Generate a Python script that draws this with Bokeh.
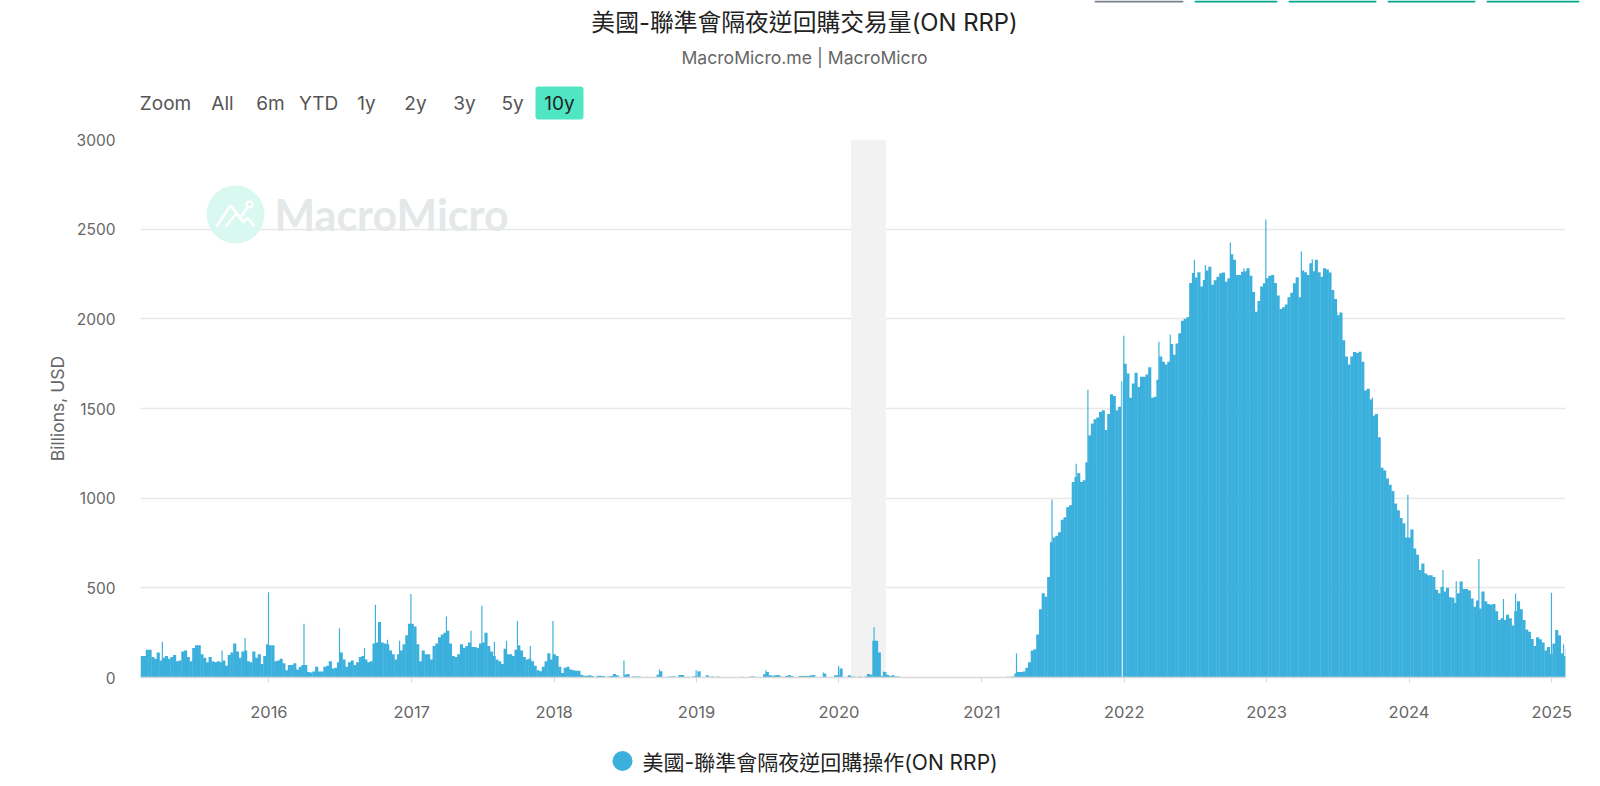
from datetime import datetime, timedelta

from bokeh.embed import file_html
from bokeh.layouts import column
from bokeh.models import (BoxAnnotation, ColumnDataSource, DatetimeTickFormatter, FixedTicker,
                          Label, PolyAnnotation, Range1d)
from bokeh.plotting import figure
from bokeh.resources import INLINE

# ---------------------------------------------------------------- data
title_text = "美國-聯準會隔夜逆回購交易量(ON RRP)"
subtitle_text = "MacroMicro.me | MacroMicro"
series_name = "美國-聯準會隔夜逆回購操作(ON RRP)"
y_axis_name = "Billions, USD"
range_buttons = ["Zoom", "All", "6m", "YTD", "1y", "2y", "3y", "5y", "10y"]
watermark_text = "MacroMicro"
y_ticks = [0, 500, 1000, 1500, 2000, 2500, 3000]
x_tick_years = [2016, 2017, 2018, 2019, 2020, 2021, 2022, 2023, 2024, 2025]
first_week = datetime(2015, 2, 6)
last_day = datetime(2025, 2, 5)
recession_start = datetime(2020, 2, 1)
recession_end = datetime(2020, 4, 30)

# weekly level, billions USD
weeks_2015 = [120, 120, 155, 155, 115, 105, 140, 95, 110, 120,
              105, 115, 125, 90, 95, 145, 150, 115, 90, 165,
              180, 180, 130, 110, 85, 115, 90, 85, 90, 85,
              95, 65, 125, 140, 190, 145, 110, 145, 150, 90,
              85, 145, 110, 130, 75, 120, 185]
weeks_2016 = [180, 180, 90, 95, 105, 80, 40, 70, 70, 80,
              45, 60, 70, 70, 30, 28, 33, 60, 33, 33,
              60, 65, 90, 50, 55, 85, 140, 100, 60, 85,
              95, 70, 85, 115, 120, 100, 85, 90, 190, 195,
              310, 195, 190, 185, 150, 130, 100, 130, 150, 185,
              235, 300]
weeks_2017 = [300, 285, 185, 90, 150, 130, 130, 100, 175, 190,
              225, 240, 250, 260, 190, 120, 115, 130, 185, 165,
              175, 195, 170, 170, 165, 190, 195, 250, 175, 145,
              120, 100, 90, 75, 160, 130, 130, 120, 155, 180,
              150, 115, 100, 105, 90, 65, 40, 35, 60, 90,
              135, 100]
weeks_2018 = [130, 120, 60, 25, 55, 60, 45, 40, 38, 38,
              15, 10, 10, 12, 8, 3, 10, 10, 8, 3,
              6, 8, 20, 12, 3, 3, 15, 20, 3, 6,
              6, 6, 0, 0, 4, 0, 0, 0, 15, 35,
              0, 0, 6, 6, 6, 0, 14, 14, 0, 4,
              0, 6]
weeks_2019 = [8, 35, 0, 0, 12, 4, 5, 3, 5, 0,
              0, 0, 3, 0, 0, 0, 0, 4, 2, 0,
              5, 5, 0, 0, 0, 18, 30, 12, 10, 12,
              14, 6, 0, 8, 14, 8, 3, 0, 8, 8,
              8, 8, 12, 14, 0, 0, 0, 22, 0, 0,
              0, 12]
weeks_2020 = [12, 50, 0, 0, 12, 5, 4, 0, 5, 0,
              5, 20, 15, 205, 205, 140, 8, 30, 15, 8,
              12, 6, 5, 0, 0, 0, 0, 0, 0, 0,
              0, 0, 0, 0, 0, 0, 0, 0, 0, 0,
              0, 0, 0, 0, 0, 0, 0, 0, 0, 0,
              0, 0, 0]
weeks_2021 = [3, 0, 0, 0, 3, 0, 0, 0, 0, 4,
              4, 5, 22, 30, 30, 33, 55, 85, 150, 158,
              240, 380, 470, 450, 560, 754, 780, 790, 810, 880,
              894, 950, 960, 1090, 1118, 1140, 1090, 1100, 1200, 1350,
              1416, 1440, 1450, 1480, 1490, 1380, 1470, 1580, 1570, 1490,
              1510, 1650, 1750]
weeks_2022 = [1695, 1560, 1640, 1700, 1620, 1677, 1677, 1690, 1730, 1560,
              1565, 1660, 1790, 1760, 1745, 1760, 1860, 1800, 1863, 1919,
              1990, 2000, 2010, 2200, 2255, 2230, 2260, 2180, 2217, 2270,
              2290, 2190, 2215, 2235, 2254, 2258, 2207, 2226, 2360, 2330,
              2245, 2245, 2263, 2265, 2282, 2240, 2150, 2040, 2100, 2180,
              2198, 2226]
weeks_2023 = [2240, 2245, 2200, 2130, 2055, 2065, 2080, 2120, 2145, 2198,
              2232, 2120, 2270, 2260, 2245, 2310, 2265, 2330, 2260, 2235,
              2282, 2275, 2258, 2161, 2110, 2020, 2035, 1880, 1790, 1745,
              1790, 1815, 1810, 1816, 1760, 1600, 1610, 1550, 1460, 1470,
              1340, 1170, 1155, 1110, 1075, 1040, 970, 932, 890, 860,
              780, 780]
weeks_2024 = [825, 720, 685, 600, 635, 580, 570, 570, 560, 490,
              470, 505, 480, 500, 447, 445, 415, 470, 535, 494,
              494, 485, 440, 395, 430, 385, 480, 425, 410, 405,
              410, 370, 320, 330, 320, 350, 330, 290, 370, 425,
              380, 320, 268, 255, 215, 175, 225, 213, 195, 150,
              170, 130]
weeks_2025 = [190, 265, 235, 135, 120, 160]

# single-day jumps, mostly at month and quarter ends
spike_dates = [
    "2015-04-03", "2015-09-03", "2015-11-01", "2015-12-31", "2016-03-31", "2016-06-30",
    "2016-09-02", "2016-09-30", "2016-10-31", "2016-12-01", "2016-12-30", "2017-03-31",
    "2017-06-02", "2017-06-30", "2017-08-01", "2017-09-01", "2017-09-29", "2017-11-01",
    "2017-12-29", "2018-06-29", "2018-09-28", "2018-12-31", "2019-06-28", "2019-11-22",
    "2019-12-31", "2020-03-31", "2020-04-24", "2021-03-31", "2021-06-30", "2021-08-31",
    "2021-09-30", "2021-12-31", "2022-03-31", "2022-04-29", "2022-06-30", "2022-07-28",
    "2022-09-30", "2022-11-04", "2022-12-30", "2023-03-31", "2023-04-28", "2023-06-30",
    "2023-09-29", "2023-12-29", "2024-03-28", "2024-05-01", "2024-06-28", "2024-08-30",
    "2024-09-30", "2024-12-31", "2025-01-31",
]
spike_values = [
    200, 150, 220, 475, 300, 275,
    165, 405, 210, 205, 465, 340,
    260, 400, 200, 205, 315, 175,
    315, 95, 45, 40, 40, 28,
    65, 280, 33, 134, 991, 1192,
    1605, 1905, 1872, 1913, 2329, 2300,
    2425, 2282, 2554, 2375, 2332, 2040,
    1561, 1019, 600, 537, 661, 438,
    468, 473, 185,
]
# a day with no reading: shows as a thin white line through the bars
gap_dates = ["2021-12-27"]
gap_values = [1690]

# ---------------------------------------------------------------- styles
BAR = "#3cb0dc"
CJK = "'Inter', 'Noto Sans CJK TC'"
UI = "Inter"
WIDTH = 1600
HEADER_H, MAIN_H = 125, 605
FOOTER_H = 786 - HEADER_H - MAIN_H
FRAME_LEFT, FRAME_RIGHT, FRAME_TOP, FRAME_BOTTOM = 140, 1565, 139, 677


def box(fig, left, right, top, bottom, color, radius=0, level="annotation"):
    fig.add_layout(BoxAnnotation(left=left, right=right, top=top, bottom=bottom,
                                 left_units="screen", right_units="screen", top_units="screen",
                                 bottom_units="screen", fill_color=color, fill_alpha=1,
                                 line_color=None, border_radius=radius, level=level))


def strip(height):
    return figure(width=WIDTH, height=height, x_range=Range1d(0, WIDTH), y_range=Range1d(0, height),
                  x_axis_location=None, y_axis_location=None, toolbar_location=None,
                  output_backend="svg", min_border=0, outline_line_color=None, frame_align=False)


# ---------------------------------------------------------------- header strip
header = strip(HEADER_H)
header.grid.visible = False


def put(text, x, y, size, color, font=UI):
    header.add_layout(Label(x=x, y=HEADER_H - y, x_units="screen", y_units="screen", text=text,
                            text_font=font, text_font_size=size, text_color=color, text_align="center",
                            text_baseline="middle"))


for left, right, color in [(1094, 1183, "#7a7f8f"), (1194, 1277, "#00a88a"), (1288, 1376, "#00a88a"),
                           (1387, 1475, "#00a88a"), (1486, 1579, "#00a88a")]:
    box(header, left, right, HEADER_H, HEADER_H - 2, color, radius=1)
put(title_text, 804, 22, "23.8px", "#222222", CJK)
put(subtitle_text, 804, 57, "17.6px", "#666666")
box(header, 535, 583, HEADER_H - 86, HEADER_H - 119, "#50e5c3", radius=3)
button_x = [165, 222, 270, 318, 366, 415, 464, 512, 559]
for name, x in zip(range_buttons, button_x):
    put(name, x, 103, "19px", "#222222" if name == "10y" else "#555555")

# ---------------------------------------------------------------- main chart
weekly = (weeks_2015 + weeks_2016 + weeks_2017 + weeks_2018 + weeks_2019 + weeks_2020
          + weeks_2021 + weeks_2022 + weeks_2023 + weeks_2024 + weeks_2025)
week_dates = [first_week + timedelta(days=7 * i + 3.5) for i in range(len(weekly))]
DAY = 86400000

p = figure(width=WIDTH, height=MAIN_H, x_axis_type="datetime", output_backend="svg",
           toolbar_location=None, min_border_left=FRAME_LEFT, min_border_right=WIDTH - FRAME_RIGHT,
           min_border_top=FRAME_TOP - HEADER_H, min_border_bottom=HEADER_H + MAIN_H - FRAME_BOTTOM,
           x_range=Range1d(first_week, last_day), y_range=Range1d(0, 3000),
           outline_line_color=None, background_fill_color="white", frame_align=False)


def sx(px):
    return px - FRAME_LEFT


def sy(py):
    return FRAME_BOTTOM - py


p.add_layout(BoxAnnotation(left=recession_start, right=recession_end, fill_color="#f2f2f2",
                           fill_alpha=1, line_color=None, level="underlay"))

# watermark
box(p, sx(206), sx(264), sy(185), sy(243), "#d9f8f0", radius=29, level="underlay")
for xs_, ys_ in [([216, 230, 240, 247, 240, 230], [226, 205, 217, 207, 217, 205]),
                 ([225, 236, 243, 247, 254, 247, 243, 236], [226, 213, 222, 217, 226, 217, 222, 213])]:
    p.add_layout(PolyAnnotation(xs=[sx(v) for v in xs_], ys=[sy(v) for v in ys_],
                                xs_units="screen", ys_units="screen", fill_alpha=0,
                                line_color="white", line_alpha=1, line_width=2.5, level="underlay"))
box(p, sx(245), sx(253), sy(200), sy(208), "white", radius=4, level="underlay")
box(p, sx(247), sx(251), sy(202), sy(206), "#d9f8f0", radius=2, level="underlay")
p.add_layout(Label(x=sx(274), y=sy(214), x_units="screen", y_units="screen", text=watermark_text,
                   text_font="Lato", text_font_style="bold", text_font_size="43px", text_color="#e4e8e9",
                   text_baseline="middle", text_align="left", level="underlay"))

source = ColumnDataSource(dict(date=week_dates, value=weekly))
p.vbar(x="date", top="value", width=8 * DAY, source=source, fill_color=BAR, line_color=None)
spike_source = ColumnDataSource(dict(date=[datetime.fromisoformat(d) for d in spike_dates], value=spike_values))
p.vbar(x="date", top="value", width=3 * DAY, source=spike_source, fill_color=BAR, line_color=None)
gap_source = ColumnDataSource(dict(date=[datetime.fromisoformat(d) for d in gap_dates], value=gap_values))
p.vbar(x="date", top="value", width=2.5 * DAY, source=gap_source, fill_color="white", line_color=None)

# axes
p.xgrid.visible = False
p.ygrid.grid_line_color = "#e8e8e8"
p.ygrid.grid_line_width = 1.4
p.yaxis.ticker = FixedTicker(ticks=y_ticks)
p.yaxis.axis_line_color = None
p.yaxis.major_tick_line_color = None
p.yaxis.minor_tick_line_color = None
p.yaxis.major_label_text_font = UI
p.yaxis.major_label_text_font_size = "15.5px"
p.yaxis.major_label_text_color = "#666666"
p.yaxis.major_label_standoff = 19
p.yaxis.axis_label = y_axis_name
p.yaxis.axis_label_text_font = UI
p.yaxis.axis_label_text_font_style = "normal"
p.yaxis.axis_label_text_font_size = "17.5px"
p.yaxis.axis_label_text_color = "#666666"
p.yaxis.axis_label_standoff = 6

p.xaxis.ticker = FixedTicker(ticks=[(datetime(y, 1, 1) - datetime(1970, 1, 1)).total_seconds() * 1000 for y in x_tick_years])
p.xaxis.formatter = DatetimeTickFormatter(years="%Y", months="%Y", days="%Y", hours="%Y",
                                          hourmin="%Y", minutes="%Y", minsec="%Y", seconds="%Y",
                                          milliseconds="%Y", microseconds="%Y", context=None)
p.xaxis.axis_line_color = "#d9d9d9"
p.xaxis.axis_line_width = 1.4
p.xaxis.major_tick_line_color = "#d9d9d9"
p.xaxis.major_tick_out = 5
p.xaxis.major_tick_in = 0
p.xaxis.minor_tick_line_color = None
p.xaxis.major_label_text_font = UI
p.xaxis.major_label_text_font_size = "16.5px"
p.xaxis.major_label_text_color = "#666666"
p.xaxis.major_label_standoff = 23

# ---------------------------------------------------------------- legend strip
footer = strip(FOOTER_H)
footer.grid.visible = False
box(footer, 612, 632, 786 - 750.5, 786 - 770.5, BAR, radius=10)
footer.add_layout(Label(x=642, y=786 - 762, x_units="screen", y_units="screen", text=series_name,
                        text_font=CJK, text_font_size="21px", text_color="#222222",
                        text_align="left", text_baseline="middle"))

page = column(header, p, footer, spacing=0)
open("out.html", "w").write(file_html(page, INLINE))
